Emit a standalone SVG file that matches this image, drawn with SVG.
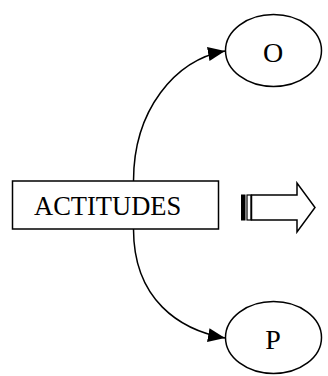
<svg xmlns="http://www.w3.org/2000/svg" width="328" height="376" viewBox="0 0 328 376">
<style>
.shape{fill:#fff;stroke:#000;stroke-width:1.5}
.lbl{font-family:"Liberation Serif","Times New Roman",serif;font-size:28px;fill:#000}
.conn{fill:none;stroke:#000;stroke-width:1.5}
</style>
<defs>
<marker id="ah" markerUnits="userSpaceOnUse" markerWidth="18" markerHeight="14" refX="17" refY="7" orient="auto">
<path d="M0,0 L17,7 L0,14 Z" fill="#000"/>
</marker>
</defs>
<rect width="328" height="376" fill="#fff"/>
<g id="connectors">
<path class="conn" d="M133.5,181 C133.5,110 175,60 225,51" marker-end="url(#ah)"/>
<path class="conn" d="M133.5,229 C133.5,300 180,330 225,338" marker-end="url(#ah)"/>
</g>
<g id="actitudes">
<rect class="shape" x="12.5" y="181" width="206" height="48"/>
<text class="lbl" x="34" y="215" style="font-size:26.5px">ACTITUDES</text>
</g>
<g id="O">
<ellipse class="shape" cx="273.5" cy="50.5" rx="48" ry="36"/>
<text class="lbl" x="273" y="62" text-anchor="middle">O</text>
</g>
<g id="P">
<ellipse class="shape" cx="273.5" cy="337.5" rx="48" ry="36"/>
<text class="lbl" x="273" y="349" text-anchor="middle">P</text>
</g>
<g id="striped-arrow">
<rect x="241.5" y="195" width="3.5" height="25" fill="#000" stroke="#000" stroke-width="1"/>
<rect x="247" y="195" width="4" height="25" fill="#fff" stroke="#000" stroke-width="1.2"/>
<polygon points="251.5,195 297,195 297,183 315,207.5 297,232 297,220 251.5,220" fill="#fff" stroke="#000" stroke-width="1.5"/>
</g>
</svg>
